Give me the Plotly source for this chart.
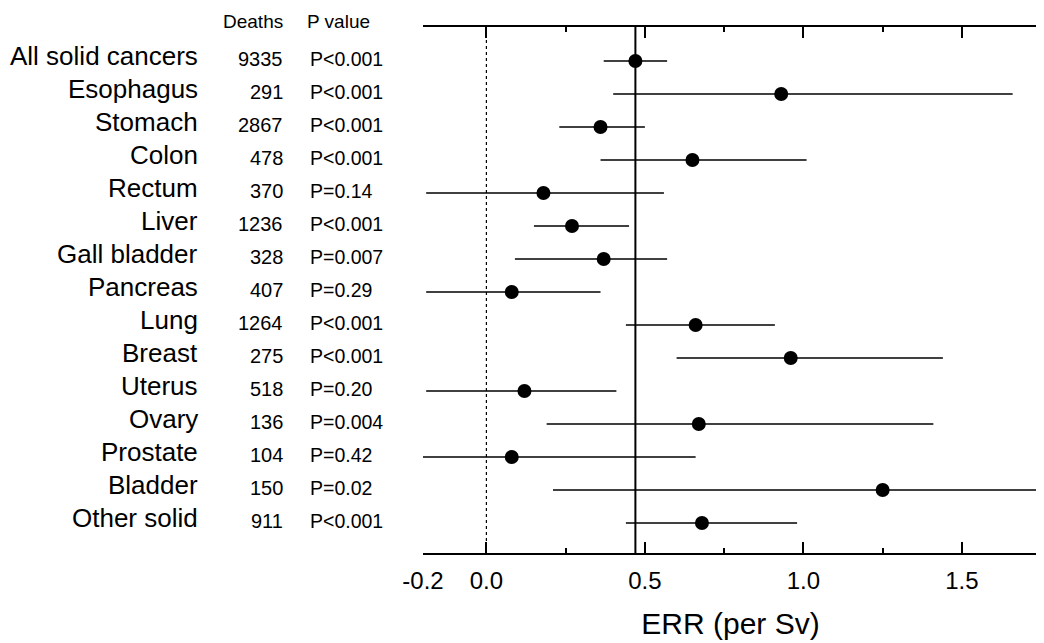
"""Site-specific ERR per Sv forest plot."""

import plotly.graph_objects as go

sites = [
    "All solid cancers", "Esophagus", "Stomach", "Colon", "Rectum", "Liver",
    "Gall bladder", "Pancreas", "Lung", "Breast", "Uterus", "Ovary",
    "Prostate", "Bladder", "Other solid",
]
deaths = [9335, 291, 2867, 478, 370, 1236, 328, 407, 1264, 275, 518, 136, 104, 150, 911]
p_values = [
    "P<0.001", "P<0.001", "P<0.001", "P<0.001", "P=0.14", "P<0.001",
    "P=0.007", "P=0.29", "P<0.001", "P<0.001", "P=0.20", "P=0.004",
    "P=0.42", "P=0.02", "P<0.001",
]
err = [0.47, 0.93, 0.36, 0.65, 0.18, 0.27, 0.37, 0.08, 0.66, 0.96, 0.12, 0.67, 0.08, 1.25, 0.68]
ci_low = [0.37, 0.40, 0.23, 0.36, -0.19, 0.15, 0.09, -0.19, 0.44, 0.60, -0.19, 0.19, -0.20, 0.21, 0.44]
ci_high = [0.57, 1.66, 0.50, 1.01, 0.56, 0.45, 0.57, 0.36, 0.91, 1.44, 0.41, 1.41, 0.66, 1.74, 0.98]

tick_vals = [-0.2, 0.0, 0.5, 1.0, 1.5]
tick_text = ["-0.2", "0.0", "0.5", "1.0", "1.5"]
minor_vals = [0.25, 0.75, 1.25]
NULL_ERR = 0.0

FONT = "Arial, Liberation Sans, sans-serif"
rows = list(range(len(sites)))

fig = go.Figure(
    go.Scatter(
        x=err,
        y=rows,
        mode="markers",
        marker=dict(color="black", size=14),
        error_x=dict(
            type="data",
            symmetric=False,
            array=[h - e for h, e in zip(ci_high, err)],
            arrayminus=[e - l for e, l in zip(err, ci_low)],
            color="black",
            thickness=1.6,
            width=0,
        ),
        showlegend=False,
        hoverinfo="skip",
    )
)

# reference lines: no excess risk, and the all-solid-cancer estimate
fig.add_vline(x=NULL_ERR, line=dict(color="black", width=1.2, dash="dot"))
fig.add_vline(x=err[0], line=dict(color="black", width=2))

# left-hand table
for i, (site, n, p) in enumerate(zip(sites, deaths, p_values)):
    fig.add_annotation(text=site, x=-0.3626, y=i, xref="paper", yref="y",
                       xanchor="right", yanchor="middle", yshift=5, showarrow=False,
                       font=dict(family=FONT, size=26, color="black"))
    fig.add_annotation(text=str(n), x=-0.2244, y=i, xref="paper", yref="y",
                       xanchor="right", yanchor="middle", yshift=2, showarrow=False,
                       font=dict(family=FONT, size=20, color="black"))
    fig.add_annotation(text=p, x=-0.187, y=i, xref="paper", yref="y",
                       xanchor="left", yanchor="middle", yshift=2, showarrow=False,
                       font=dict(family=FONT, size=19.5, color="black"))

fig.add_annotation(text="Deaths", x=-0.2244, y=1.01, xref="paper", yref="paper",
                   xanchor="right", yanchor="middle", showarrow=False,
                   font=dict(family=FONT, size=19, color="black"))
fig.add_annotation(text="P value", x=-0.192, y=1.01, xref="paper", yref="paper",
                   xanchor="left", yanchor="middle", showarrow=False,
                   font=dict(family=FONT, size=19, color="black"))

fig.update_xaxes(
    range=[-0.2, 1.74],
    tickmode="array",
    tickvals=tick_vals,
    ticktext=tick_text,
    ticks="inside",
    ticklen=11,
    tickwidth=1.5,
    tickcolor="black",
    minor=dict(tickmode="array", tickvals=minor_vals, ticks="inside",
               ticklen=5, tickwidth=1.5, tickcolor="black"),
    showline=True,
    linecolor="black",
    linewidth=2,
    mirror="ticks",
    showgrid=False,
    zeroline=False,
    automargin=False,
    ticklabelstandoff=5,
    tickfont=dict(family=FONT, size=24, color="black"),
    title=dict(text="ERR (per Sv)", font=dict(family=FONT, size=30, color="black"),
               standoff=20),
)
fig.update_yaxes(range=[14.91, -1.03], visible=False, showgrid=False, zeroline=False)

# the page body adds an 8px offset, so the figure is 8px smaller on each axis
fig.update_layout(
    width=1036,
    height=635,
    margin=dict(l=415, r=6, t=19, b=90),
    plot_bgcolor="white",
    paper_bgcolor="white",
    font=dict(family=FONT, color="black"),
)

fig.write_html("out.html")
